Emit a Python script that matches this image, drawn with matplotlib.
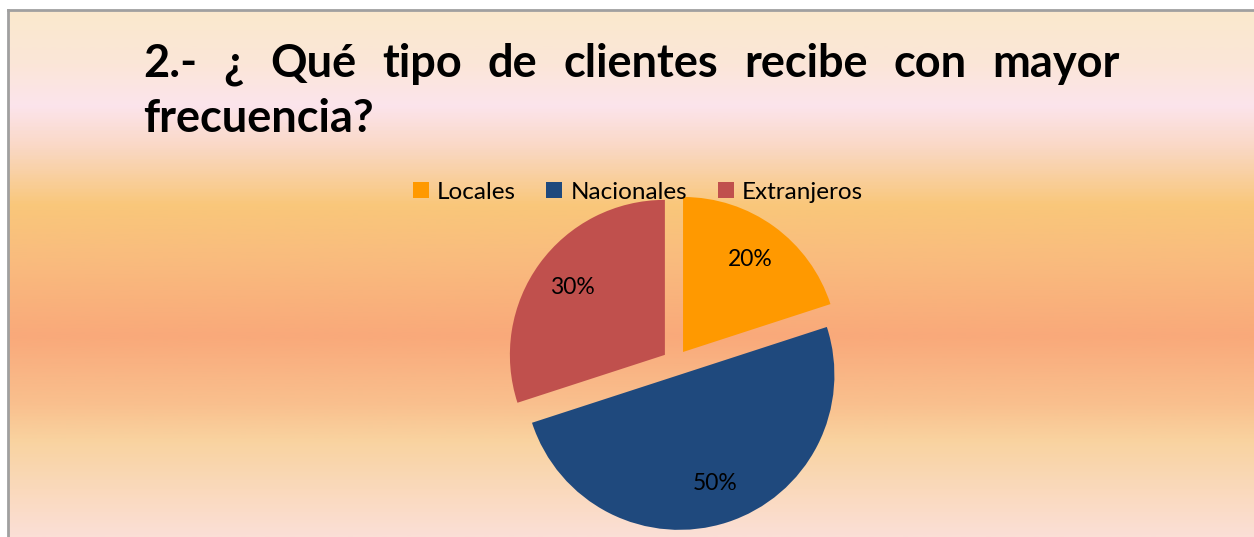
import matplotlib.pyplot as plt
import numpy as np
from matplotlib.colors import LinearSegmentedColormap, to_rgb
from matplotlib.patches import Patch

# data
categories = ["Locales", "Nacionales", "Extranjeros"]
values = [20, 50, 30]
colors = ["#FF9900", "#1F497D", "#C0504D"]
title_line1 = ["2.-", "¿", "Qué", "tipo", "de", "clientes", "recibe", "con", "mayor"]
title_line2 = "frecuencia?"

W, H = 1254, 537
plt.rcParams["font.family"] = ["Lato", "DejaVu Sans"]

fig = plt.figure(figsize=(W / 100, H / 100), dpi=100)
ax = fig.add_axes([0, 0, 1, 1])

# background gradient (top -> bottom)
stops = [(0.00, "#FAE9CD"), (0.10, "#FBE6D8"), (0.18, "#FCE4EC"), (0.26, "#FAD8C4"),
         (0.37, "#F9C77A"), (0.47, "#F9BC7E"), (0.62, "#F9A97A"), (0.75, "#F9C08E"),
         (0.82, "#F9D3A0"), (1.00, "#FBDFD6")]
cmap = LinearSegmentedColormap.from_list("bg", [(p, to_rgb(c)) for p, c in stops])
grad = np.linspace(0, 1, 400).reshape(-1, 1)
ax.imshow(grad, cmap=cmap, aspect="auto", extent=[8, W, 0, H - 10], origin="upper", zorder=0)
ax.plot([8, W], [H - 10, H - 10], color="#A0A0A0", lw=2, zorder=1)
ax.plot([8, 8], [0, H - 10], color="#A0A0A0", lw=2, zorder=1)

# explode is in data units here (pixels)
wedges, texts, autotexts = ax.pie(values, colors=colors, startangle=90, counterclock=False,
                                  explode=[13] * 3, radius=155, center=(675.4, H - 362.5),
                                  autopct="%1.0f%%", pctdistance=0.74, frame=True,
                                  textprops=dict(fontsize=16.5, color="black"))
for w in wedges:
    w.set_zorder(2)
for t in autotexts:
    t.set_zorder(3)

ax.set_xlim(0, W)
ax.set_ylim(0, H)
ax.set_aspect("auto")
ax.axis("off")

handles = [Patch(facecolor=c, edgecolor="none") for c in colors]
ax.legend(handles, categories, loc="center", bbox_to_anchor=(638 / W, 1 - 192 / H), ncol=3,
          frameon=False, fontsize=17.5, handlelength=0.65, handleheight=0.65, handletextpad=0.35,
          columnspacing=1.25, borderaxespad=0)

# justified title
fs = 32.5
left, right = 143, 1120
fig.canvas.draw()
renderer = fig.canvas.get_renderer()
words = [ax.text(0, H - 77, w, fontsize=fs, fontweight="bold", transform=ax.transData)
         for w in title_line1]
widths = [t.get_window_extent(renderer).width for t in words]
gap = (right - left - sum(widths)) / (len(words) - 1)
x = left
for t, wd in zip(words, widths):
    t.set_x(x)
    x += wd + gap
ax.text(left, H - 132, title_line2, fontsize=fs, fontweight="bold")

fig.savefig("out.png", dpi=100)
